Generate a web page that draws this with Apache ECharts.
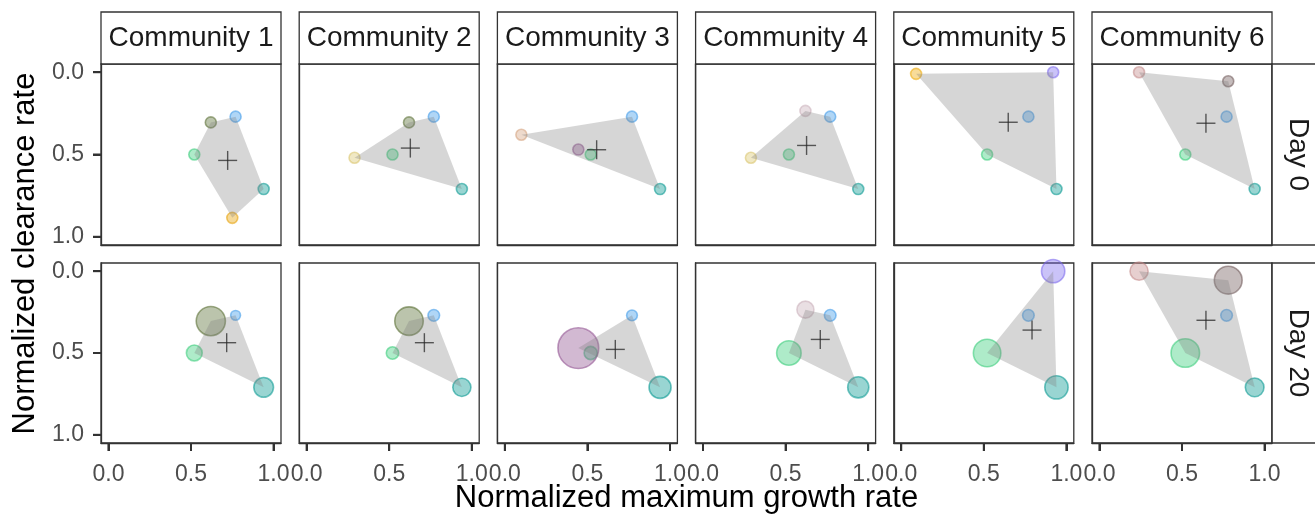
<!DOCTYPE html>
<html>
<head>
<meta charset="utf-8">
<title>Community trait space</title>
<script src="https://cdn.jsdelivr.net/npm/echarts@6/dist/echarts.min.js"></script>
<style>
  html, body { margin: 0; padding: 0; background: #ffffff; }
  #chart { width: 1315px; height: 519px; }
</style>
</head>
<body>
<div id="chart"></div>
<script>
// ---- data ---------------------------------------------------------------
const communities = ['Community 1', 'Community 2', 'Community 3', 'Community 4', 'Community 5', 'Community 6'];
const days = ['Day 0', 'Day 20'];

// species traits (normalized)
const speciesIds    = ['S01', 'S02', 'S03', 'S04', 'S05', 'S06', 'S07', 'S08', 'S09', 'S10', 'S11', 'S12', 'S13'];
const growthRate    = [0.77, 0.94, 0.52, 0.62, 0.75, 0.29, 0.10, 0.445, 0.62, 0.09, 0.92, 0.24, 0.78];
const clearanceRate = [0.27, 0.71, 0.50, 0.305, 0.885, 0.52, 0.38, 0.47, 0.235, 0.01, 0.00, 0.00, 0.055];

// species present in each community at Day 0 (indices into speciesIds)
const members = [
  [0, 1, 2, 3, 4],
  [0, 1, 2, 3, 5],
  [0, 1, 2, 6, 7],
  [0, 1, 2, 5, 8],
  [0, 1, 2, 9, 10],
  [0, 1, 2, 11, 12]
];

// relative abundance at Day 20, aligned with members (0 = lost)
const abundanceDay20 = [
  [0.05, 0.20, 0.13, 0.44, 0.00],
  [0.07, 0.17, 0.08, 0.42, 0.00],
  [0.06, 0.25, 0.09, 0.00, 0.86],
  [0.07, 0.23, 0.31, 0.00, 0.15],
  [0.07, 0.28, 0.39, 0.00, 0.28],
  [0.07, 0.18, 0.42, 0.17, 0.40]
];

// community centroids in trait space
const centroidDay0X  = [0.722, 0.628, 0.556, 0.627, 0.648, 0.645];
const centroidDay0Y  = [0.536, 0.461, 0.471, 0.445, 0.304, 0.310];
const centroidDay20X = [0.716, 0.713, 0.669, 0.710, 0.792, 0.645];
const centroidDay20Y = [0.437, 0.437, 0.478, 0.417, 0.360, 0.300];

const tickValues = [0, 0.5, 1];
const xTitle = 'Normalized maximum growth rate';
const yTitle = 'Normalized clearance rate';

// ---- styling ------------------------------------------------------------
const speciesColor = ['#3A98E8', '#00968F', '#35CC78', '#556B2F', '#E69F00', '#D9C56B',
                      '#D4A27F', '#8E4F8E', '#C9AEBA', '#EDA800', '#7B68EE', '#C28787', '#6E5858'];
const FONT = '"Liberation Sans", Arial, Helvetica, sans-serif';
const PANEL_LEFT = 101, PANEL_STEP = 198.2, PANEL_W = 180;
const PANEL_TOP = [64, 263], PANEL_H = [181, 180];
const STRIP_TOP = 12, STRIP_H = 52;
const BORDER = '#333333';
const TICK_LEN = 8;
const X_MIN = -0.045, X_MAX = 1.045, Y_MIN = -0.05, Y_MAX = 1.05;

function withAlpha(hex, a) {
  const n = parseInt(hex.slice(1), 16);
  return 'rgba(' + ((n >> 16) & 255) + ',' + ((n >> 8) & 255) + ',' + (n & 255) + ',' + a + ')';
}

// convex hull (monotone chain) of [x, y] points
function convexHull(points) {
  const p = points.slice().sort((a, b) => a[0] - b[0] || a[1] - b[1]);
  if (p.length < 3) return p;
  const cross = (o, a, b) => (a[0] - o[0]) * (b[1] - o[1]) - (a[1] - o[1]) * (b[0] - o[0]);
  const lower = [], upper = [];
  for (const pt of p) {
    while (lower.length >= 2 && cross(lower[lower.length - 2], lower[lower.length - 1], pt) <= 0) lower.pop();
    lower.push(pt);
  }
  for (let i = p.length - 1; i >= 0; i--) {
    const pt = p[i];
    while (upper.length >= 2 && cross(upper[upper.length - 2], upper[upper.length - 1], pt) <= 0) upper.pop();
    upper.push(pt);
  }
  upper.pop(); lower.pop();
  return lower.concat(upper);
}

const grids = [], xAxes = [], yAxes = [], series = [], graphics = [];
const tickedPanels = [];   // [gridIndex, bottomRow, firstCol]

days.forEach((day, r) => {
  communities.forEach((comm, c) => {
    const idx = grids.length;
    const left = PANEL_LEFT + c * PANEL_STEP;
    grids.push({
      left: left, top: PANEL_TOP[r], width: PANEL_W, height: PANEL_H[r],
      show: true, borderColor: BORDER, borderWidth: 1.3
    });
    const bottomRow = r === days.length - 1;
    const firstCol = c === 0;
    if (bottomRow || firstCol) tickedPanels.push([idx, bottomRow, firstCol]);
    xAxes.push({
      gridIndex: idx, type: 'value', min: X_MIN, max: X_MAX,
      splitLine: { show: false },
      axisLine: { show: true, onZero: false, lineStyle: { color: BORDER, width: 1.3 } },
      axisTick: { show: bottomRow, customValues: tickValues, length: TICK_LEN,
                  lineStyle: { color: BORDER, width: 2 } },
      axisLabel: { show: bottomRow, customValues: tickValues, margin: 20,
                   formatter: v => v.toFixed(1), color: '#4D4D4D', fontSize: 23, fontFamily: FONT }
    });
    yAxes.push({
      gridIndex: idx, type: 'value', min: Y_MIN, max: Y_MAX, inverse: true,
      splitLine: { show: false },
      axisLine: { show: true, onZero: false, lineStyle: { color: BORDER, width: 1.3 } },
      axisTick: { show: firstCol, customValues: tickValues, length: TICK_LEN,
                  lineStyle: { color: BORDER, width: 2 } },
      axisLabel: { show: firstCol, customValues: tickValues, margin: 17,
                   formatter: v => v.toFixed(1), color: '#4D4D4D', fontSize: 23, fontFamily: FONT }
    });

    // species present in this panel
    const pts = [];
    members[c].forEach((s, k) => {
      if (r === 1 && abundanceDay20[c][k] <= 0) return;
      const size = r === 0 ? 11 : 44 * Math.sqrt(abundanceDay20[c][k]);
      pts.push({
        name: speciesIds[s],
        value: [growthRate[s], clearanceRate[s]],
        symbolSize: size,
        itemStyle: { color: withAlpha(speciesColor[s], 0.5), borderColor: withAlpha(speciesColor[s], 0.7), borderWidth: 1.6 }
      });
    });

    series.push({
      type: 'scatter', xAxisIndex: idx, yAxisIndex: idx, z: 2,
      symbol: 'circle', data: pts, silent: true
    });

    const hull = convexHull(pts.map(p => p.value));
    series.push({
      type: 'custom', xAxisIndex: idx, yAxisIndex: idx, z: 3, silent: true,
      data: [[0, 0]],
      renderItem: (params, api) => ({
        type: 'polygon',
        shape: { points: hull.map(p => api.coord(p)) },
        style: { fill: 'rgba(127,127,127,0.32)', stroke: null }
      })
    });

    const cx = r === 0 ? centroidDay0X[c] : centroidDay20X[c];
    const cy = r === 0 ? centroidDay0Y[c] : centroidDay20Y[c];
    series.push({
      type: 'custom', xAxisIndex: idx, yAxisIndex: idx, z: 4, silent: true,
      data: [[cx, cy]],
      renderItem: (params, api) => {
        const p = api.coord([api.value(0), api.value(1)]);
        const h = 9.5;
        const st = { stroke: 'rgba(40,40,40,0.75)', lineWidth: 1.4 };
        return {
          type: 'group', children: [
            { type: 'line', shape: { x1: p[0] - h, y1: p[1], x2: p[0] + h, y2: p[1] }, style: st },
            { type: 'line', shape: { x1: p[0], y1: p[1] - h, x2: p[0], y2: p[1] + h }, style: st }
          ]
        };
      }
    });

    // column strip
    if (r === 0) {
      graphics.push({
        type: 'rect', shape: { x: left, y: STRIP_TOP, width: PANEL_W, height: STRIP_H },
        style: { fill: '#ffffff', stroke: BORDER, lineWidth: 1.3 }
      });
      graphics.push({
        type: 'text', x: left + PANEL_W / 2, y: STRIP_TOP + STRIP_H / 2,
        style: { text: comm, fill: '#1A1A1A', fontSize: 28, fontFamily: FONT, align: 'center', verticalAlign: 'middle' }
      });
    }
  });

  // row strip on the right
  const stripX = PANEL_LEFT + 5 * PANEL_STEP + PANEL_W;
  graphics.push({
    type: 'rect', shape: { x: stripX, y: PANEL_TOP[r], width: 60, height: PANEL_H[r] },
    style: { fill: '#ffffff', stroke: BORDER, lineWidth: 1.6 }
  });
  graphics.push({
    type: 'text', x: stripX + 26, y: PANEL_TOP[r] + PANEL_H[r] / 2, rotation: -Math.PI / 2,
    style: { text: day, fill: '#1A1A1A', fontSize: 28, fontFamily: FONT, align: 'center', verticalAlign: 'middle' }
  });
});

// axis titles
graphics.push({
  type: 'text', x: PANEL_LEFT + (5 * PANEL_STEP + PANEL_W) / 2, y: 498,
  style: { text: xTitle, fill: '#000000', fontSize: 31, fontFamily: FONT, align: 'center', verticalAlign: 'middle' }
});
graphics.push({
  type: 'text', x: 25, y: (PANEL_TOP[0] + PANEL_TOP[1] + PANEL_H[1]) / 2, rotation: Math.PI / 2,
  style: { text: yTitle, fill: '#000000', fontSize: 31, fontFamily: FONT, align: 'center', verticalAlign: 'middle' }
});

const chart = echarts.init(document.getElementById('chart'), null, { renderer: 'canvas' });
chart.setOption({
  animation: false,
  grid: grids,
  xAxis: xAxes,
  yAxis: yAxes,
  series: series,
  graphic: graphics
});

// outward tick marks, placed through each panel's scales
const tickMarks = [];
tickedPanels.forEach(([gi, bottomRow, firstCol]) => {
  tickValues.forEach(v => {
    if (bottomRow) {
      const p = chart.convertToPixel({ gridIndex: gi }, [v, Y_MAX]);
      tickMarks.push({ type: 'line', z: 100, silent: true,
        shape: { x1: p[0], y1: p[1], x2: p[0], y2: p[1] + TICK_LEN },
        style: { stroke: BORDER, lineWidth: 2 } });
    }
    if (firstCol) {
      const p = chart.convertToPixel({ gridIndex: gi }, [X_MIN, v]);
      tickMarks.push({ type: 'line', z: 100, silent: true,
        shape: { x1: p[0], y1: p[1], x2: p[0] - TICK_LEN, y2: p[1] },
        style: { stroke: BORDER, lineWidth: 2 } });
    }
  });
});
chart.setOption({ graphic: graphics.concat(tickMarks) });
</script>
</body>
</html>
